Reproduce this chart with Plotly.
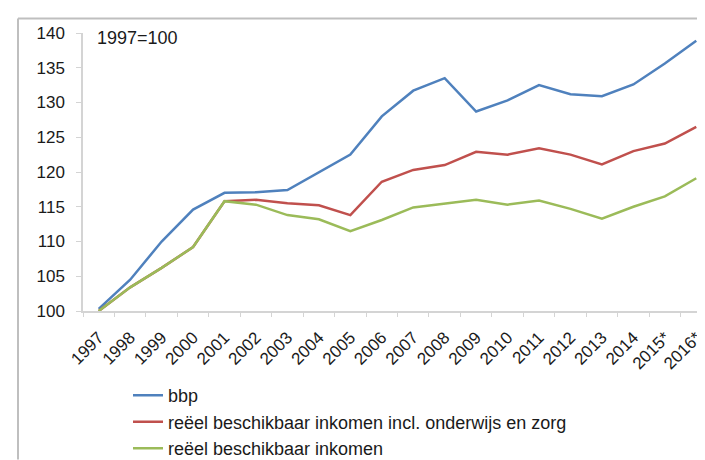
import plotly.graph_objects as go

YEARS = ["1997", "1998", "1999", "2000", "2001", "2002", "2003", "2004", "2005", "2006",
         "2007", "2008", "2009", "2010", "2011", "2012", "2013", "2014", "2015*", "2016*"]

BBP = [100.3, 104.5, 110.0, 114.6, 117.0, 117.1, 117.4, 119.9, 122.5, 128.0,
       131.7, 133.5, 128.7, 130.3, 132.5, 131.2, 130.9, 132.6, 135.6, 138.9]
INK_INCL = [100.0, 103.4, 106.2, 109.2, 115.8, 116.0, 115.5, 115.2, 113.8, 118.6,
            120.3, 121.0, 122.9, 122.5, 123.4, 122.5, 121.1, 123.0, 124.1, 126.5]
INK = [100.0, 103.4, 106.2, 109.2, 115.8, 115.3, 113.8, 113.2, 111.5, 113.1,
       114.9, 115.5, 116.0, 115.3, 115.9, 114.7, 113.3, 115.0, 116.5, 119.1]

NAMES = ["bbp", "reëel beschikbaar inkomen incl. onderwijs en zorg", "reëel beschikbaar inkomen"]
COLORS = ["#4F81BD", "#C0504D", "#9BBB59"]
Y_TICKS = [100, 105, 110, 115, 120, 125, 130, 135, 140]

FONT = "Liberation Sans, Arial, sans-serif"
TXT = "#1a1a1a"
AX = "#D4D4D4"

fig = go.Figure()
for name, vals, col in zip(NAMES, [BBP, INK_INCL, INK], COLORS):
    fig.add_trace(go.Scatter(x=YEARS, y=vals, mode="lines", name=name,
                             line=dict(color=col, width=2.5)))

# plot area in pixels: x 75..704, y 25..315
L, R, T, B = 75, 1, 25, 145
pw, ph = 705 - L - R, 460 - T - B


def px(x):
    return (x - L) / pw


def py(y):
    return (460 - B - y) / ph


# grey frame round the picture (top and left edges visible)
fig.add_shape(type="line", xref="paper", yref="paper", x0=px(10), x1=px(720),
              y0=py(10), y1=py(10), line=dict(color="#BFBFBF", width=2), layer="below")
fig.add_shape(type="line", xref="paper", yref="paper", x0=px(10), x1=px(10),
              y0=py(10), y1=py(470), line=dict(color="#BFBFBF", width=2), layer="below")

fig.add_annotation(text="1997=100", xref="paper", yref="paper", x=px(87), y=py(30),
                   xanchor="left", yanchor="middle", showarrow=False,
                   font=dict(family=FONT, size=18, color=TXT))

fig.update_layout(
    width=705, height=460,
    margin=dict(l=L, r=R, t=T, b=B),
    paper_bgcolor="white", plot_bgcolor="white",
    font=dict(family=FONT, color=TXT),
    showlegend=True,
    legend=dict(x=px(120), y=py(384), xanchor="left", yanchor="top",
                font=dict(family=FONT, size=18, color=TXT), itemwidth=30,
                tracegroupgap=0, bgcolor="rgba(0,0,0,0)"),
    xaxis=dict(type="category", showgrid=False, showline=True, linecolor=AX, linewidth=2,
               ticks="outside", tickson="boundaries", ticklen=4, tickcolor=AX,
               tickangle=-45, tickfont=dict(family=FONT, size=17, color=TXT),
               ticklabelstandoff=8, range=[-0.5, len(YEARS) - 0.5], zeroline=False),
    yaxis=dict(range=[100, 140], tickvals=Y_TICKS, showgrid=False, showline=True,
               linecolor=AX, linewidth=1.5, ticks="outside", ticklen=5, tickcolor=AX,
               tickfont=dict(family=FONT, size=17, color=TXT), ticklabelstandoff=8,
               zeroline=False),
)

fig.write_html("out.html")
